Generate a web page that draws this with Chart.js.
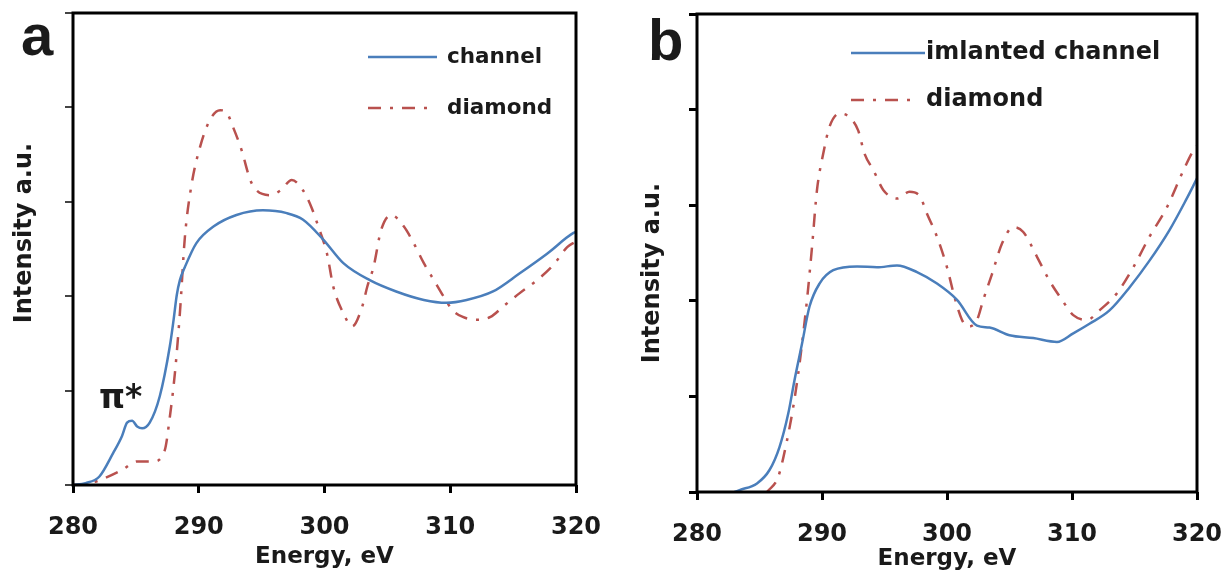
<!DOCTYPE html>
<html>
<head>
<meta charset="utf-8">
<script src="https://cdn.jsdelivr.net/npm/chart.js@4/dist/chart.umd.min.js"></script>
<style>
  html, body { margin: 0; padding: 0; background: #fff; }
  #wrap { position: relative; width: 1232px; height: 585px; }
  canvas { position: absolute; top: 0; }
  #ca { left: 0; }
  #cb { left: 616px; }
</style>
</head>
<body>
<div id="wrap">
  <canvas id="ca" width="616" height="585"></canvas>
  <canvas id="cb" width="616" height="585"></canvas>
</div>
<script>
// ---------- DATA ----------
const xTicks = [280, 290, 300, 310, 320];
const yTickCount = 5;

// Panel a
const energyA_channel = [280, 281, 282.1, 283.2, 283.9, 284.3, 284.7, 285.1, 285.5, 286.1, 286.9, 287.7, 288.0, 288.25, 288.5, 288.9, 289.8, 291.2, 293, 295.1, 297, 298.3, 299.9, 301.5, 303.6, 305.7, 307.9, 309.7, 311.3, 313.4, 315.5, 317.7, 319.8, 320];
const channelA       = [0, 0.02, 0.09, 0.34, 0.52, 0.66, 0.68, 0.62, 0.60, 0.66, 0.94, 1.47, 1.75, 2.01, 2.17, 2.31, 2.56, 2.74, 2.86, 2.91, 2.88, 2.81, 2.60, 2.35, 2.17, 2.05, 1.96, 1.93, 1.96, 2.05, 2.24, 2.45, 2.67, 2.68];
const energyA_diamond = [280, 281, 282.1, 283.9, 285.1, 286.4, 287.3, 287.7, 288.1, 288.5, 288.9, 289.4, 290.1, 290.9, 291.7, 292.2, 292.7, 293.4, 294.1, 294.6, 295.7, 296.5, 297.4, 298.3, 299.0, 299.5, 300.2, 300.7, 301.5, 302.2, 303.0, 303.4, 303.9, 304.5, 305.3, 306.3, 307.1, 307.9, 308.7, 309.5, 310.2, 311.0, 312.1, 313.2, 314.2, 315.5, 316.9, 318.2, 319.3, 320];
const diamondA        = [0, 0.01, 0.05, 0.16, 0.25, 0.25, 0.37, 0.72, 1.18, 1.82, 2.63, 3.16, 3.58, 3.87, 3.97, 3.95, 3.80, 3.55, 3.23, 3.12, 3.07, 3.12, 3.23, 3.12, 2.93, 2.74, 2.45, 2.10, 1.82, 1.68, 1.89, 2.10, 2.31, 2.70, 2.86, 2.74, 2.56, 2.35, 2.17, 1.99, 1.85, 1.78, 1.75, 1.78, 1.89, 2.03, 2.17, 2.33, 2.52, 2.58];

// Panel b
const energyB_channel = [283, 283.4, 284.8, 285.8, 286.6, 287.3, 287.8, 288.4, 289.0, 289.8, 290.9, 292.8, 294.4, 296.0, 297.6, 299.2, 300.8, 302.4, 303.4, 305.0, 306.9, 308.8, 310.1, 311.4, 313.0, 314.6, 316.2, 317.8, 319.1, 320];
const channelB        = [0, 0.02, 0.09, 0.23, 0.47, 0.82, 1.17, 1.55, 1.94, 2.18, 2.32, 2.36, 2.35, 2.37, 2.30, 2.18, 2.01, 1.74, 1.72, 1.64, 1.61, 1.57, 1.66, 1.76, 1.90, 2.14, 2.42, 2.74, 3.05, 3.28];
const energyB_diamond = [285.6, 286.5, 287.2, 287.7, 288.1, 288.5, 288.8, 289.2, 289.6, 290.1, 290.6, 291.4, 292.2, 292.9, 293.4, 294.1, 294.9, 296.0, 297.0, 297.8, 298.4, 299.2, 300.0, 300.6, 301.2, 301.7, 302.4, 302.9, 303.6, 304.4, 305.3, 306.1, 307.2, 308.2, 309.2, 310.1, 311.2, 312.2, 313.6, 314.9, 316.2, 317.6, 318.9, 319.7, 320];
const diamondB        = [0, 0.16, 0.54, 0.89, 1.24, 1.66, 2.01, 2.56, 3.16, 3.54, 3.82, 3.96, 3.92, 3.78, 3.54, 3.37, 3.16, 3.07, 3.14, 3.10, 2.91, 2.67, 2.35, 2.04, 1.80, 1.73, 1.80, 2.01, 2.28, 2.60, 2.77, 2.72, 2.46, 2.21, 2.01, 1.85, 1.80, 1.90, 2.08, 2.35, 2.67, 2.98, 3.36, 3.57, 3.62];

const legendA = ['channel', 'diamond'];
const legendB = ['imlanted channel', 'diamond'];
const xTitle = 'Energy, eV';
const yTitle = 'Intensity a.u.';

// ---------- STYLE ----------
const BLUE = '#4a7ebb';
const RED = '#b9514e';
const DASHDOT = [13, 9, 3, 9];
const FONT = '"DejaVu Sans", sans-serif';
const TXT = '#1a1a1a';

function pts(xs, ys) { return xs.map((x, i) => ({ x: x, y: ys[i] })); }

function makeChart(id, o) {
  const overlay = {
    id: 'overlay',
    afterDraw(chart) {
      const ctx = chart.ctx, a = chart.chartArea;
      ctx.save();
      ctx.strokeStyle = '#000';
      ctx.lineWidth = 3;
      ctx.setLineDash([]);
      ctx.strokeRect(a.left, a.top, a.right - a.left, a.bottom - a.top);
      ctx.fillStyle = TXT;
      ctx.font = 'bold 58px "Liberation Sans", Arial, sans-serif';
      ctx.textAlign = 'left';
      ctx.textBaseline = 'alphabetic';
      ctx.fillText(o.letter, o.letterX, o.letterY);
      ctx.save();
      ctx.translate(o.yTitleX, o.yTitleY);
      ctx.rotate(-Math.PI / 2);
      ctx.font = 'bold 24px ' + FONT;
      ctx.textAlign = 'center';
      ctx.textBaseline = 'middle';
      ctx.fillText(yTitle, 0, 0);
      ctx.restore();
      ctx.font = 'bold ' + o.legFont + 'px ' + FONT;
      ctx.textBaseline = 'middle';
      ctx.textAlign = 'left';
      o.legend.forEach((t, i) => {
        const y = o.legY[i];
        ctx.beginPath();
        ctx.lineWidth = 2.5;
        ctx.strokeStyle = i === 0 ? BLUE : RED;
        ctx.setLineDash(i === 0 ? [] : DASHDOT);
        ctx.moveTo(o.legX0, y);
        ctx.lineTo(o.legX1[i], y);
        ctx.stroke();
        ctx.setLineDash([]);
        ctx.fillStyle = TXT;
        ctx.fillText(t, o.legTextX, y);
      });
      if (o.note) {
        ctx.font = 'bold 33px ' + FONT;
        ctx.textBaseline = 'alphabetic';
        ctx.fillText(o.note, o.noteX, o.noteY);
      }
      ctx.restore();
    }
  };

  return new Chart(document.getElementById(id), {
    type: 'line',
    data: {
      datasets: [
        { label: o.legend[0], data: pts(o.ex1, o.y1), borderColor: BLUE, borderWidth: 2.5,
          pointRadius: 0, cubicInterpolationMode: 'monotone', fill: false },
        { label: o.legend[1], data: pts(o.ex2, o.y2), borderColor: RED, borderWidth: 2.5,
          borderDash: DASHDOT, pointRadius: 0, cubicInterpolationMode: 'monotone', fill: false }
      ]
    },
    options: {
      responsive: false,
      animation: false,
      devicePixelRatio: 1,
      layout: { padding: { left: 0, top: o.padTop, right: o.padRight, bottom: 0 } },
      plugins: { legend: { display: false }, tooltip: { enabled: false } },
      scales: {
        x: {
          type: 'linear', min: 280, max: 320,
          afterBuildTicks: (s) => { s.ticks = xTicks.map(v => ({ value: v })); },
          afterFit: (s) => { s.height = o.xAxisH; s.paddingLeft = 0; s.paddingRight = 0; },
          border: { display: false },
          grid: { display: true, drawOnChartArea: false, drawTicks: true, tickLength: 8,
                  color: '#000', lineWidth: 3 },
          ticks: { color: TXT, font: { family: FONT, size: 24, weight: 'bold' },
                   padding: o.tickPad, maxRotation: 0 },
          title: { display: true, text: xTitle, color: TXT,
                   font: { family: FONT, size: 23, weight: 'bold' },
                   padding: { top: 0, bottom: o.xTitlePad } }
        },
        y: {
          type: 'linear', min: 0, max: yTickCount,
          ticks: { display: false, stepSize: 1 },
          afterFit: (s) => { s.width = o.yAxisW; },
          border: { display: false },
          grid: { display: true, drawOnChartArea: false, drawTicks: true, tickLength: 8,
                  color: o.yTickColor, lineWidth: o.yTickW }
        }
      }
    },
    plugins: [overlay]
  });
}

makeChart('ca', {
  ex1: energyA_channel, y1: channelA, ex2: energyA_diamond, y2: diamondA,
  legend: legendA, padTop: 13, padRight: 40, yAxisW: 73, xAxisH: 100,
  tickPad: 20, xTitlePad: 14, yTickColor: '#444', yTickW: 2,
  letter: 'a', letterX: 21, letterY: 55,
  yTitleX: 25, yTitleY: 233,
  legFont: 21.5, legX0: 368, legX1: [437, 430], legY: [57, 108], legTextX: 447,
  note: 'π*', noteX: 99, noteY: 408
});

makeChart('cb', {
  ex1: energyB_channel, y1: channelB, ex2: energyB_diamond, y2: diamondB,
  legend: legendB, padTop: 14, padRight: 35, yAxisW: 81, xAxisH: 93,
  tickPad: 20, xTitlePad: 12, yTickColor: '#000', yTickW: 3,
  letter: 'b', letterX: 32, letterY: 60,
  yTitleX: 37, yTitleY: 273,
  legFont: 24, legX0: 235, legX1: [309, 295], legY: [53, 100], legTextX: 310,
  note: null
});
</script>
</body>
</html>
